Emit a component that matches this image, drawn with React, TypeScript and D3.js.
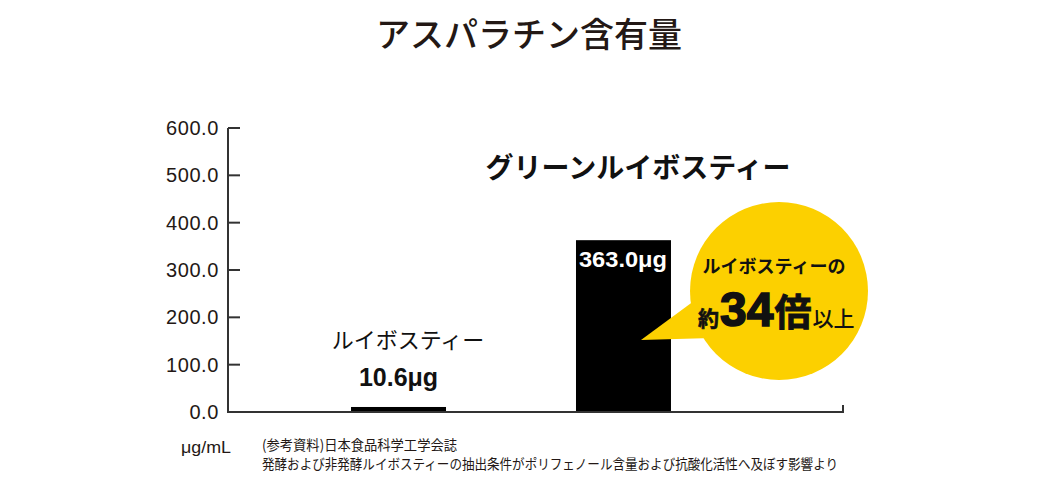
import React from "react";
import * as d3 from "d3";

const categories = ["ルイボスティー", "グリーンルイボスティー"];
const values = [10.6, 363.0];
const valueLabels = ["10.6μg", "363.0μg"];
const yTicks = [0, 100, 200, 300, 400, 500, 600];
const title = "アスパラチン含有量";
const unit = "μg/mL";
const footnotes = [
  "(参考資料)日本食品科学工学会誌",
  "発酵および非発酵ルイボスティーの抽出条件がポリフェノール含量および抗酸化活性へ及ぼす影響より",
];
const calloutTop = "ルイボスティーの";

const W = 1057;
const H = 478;
const JP = "'Noto Sans CJK JP', 'Noto Sans', sans-serif";
const LAT = "'Liberation Sans', Arial, sans-serif";

export default function App() {
  const y = d3.scaleLinear().domain([0, 600]).range([412, 128]);
  const x = d3
    .scaleBand<string>()
    .domain(categories)
    .range([286, 736])
    .paddingInner(130 / 225)
    .paddingOuter(0.289);
  const axisLeft = 228;
  const axisRight = 843;
  const bw = x.bandwidth();
  const c0 = (x(categories[0]) as number) + bw / 2;
  const b1x = x(categories[1]) as number;
  const top1 = y(values[1]);

  return (
    <svg
      width={W}
      height={H}
      viewBox={`0 0 ${W} ${H}`}
      style={{ position: "absolute", left: 0, top: 0, background: "#fff" }}
    >
      <rect x={0} y={0} width={W} height={H} fill="#fff" />
      <text
        x={529}
        y={47}
        textAnchor="middle"
        fontFamily={JP}
        fontWeight={500}
        fontSize={34}
        fill="#231815"
      >
        {title}
      </text>

      {/* bars */}
      {categories.map((c, i) => (
        <rect
          key={c}
          x={x(c) as number}
          y={y(values[i])}
          width={bw}
          height={y(0) - y(values[i])}
          fill="#000"
        />
      ))}

      {/* axes */}
      <g stroke="#333" strokeWidth={2} fill="none">
        <line x1={axisLeft} x2={axisLeft} y1={y(600)} y2={y(0) + 1} />
        <line x1={axisLeft - 1} x2={axisRight + 1} y1={y(0)} y2={y(0)} />
        <line x1={axisRight} x2={axisRight} y1={y(0) - 7} y2={y(0)} />
        {yTicks.map((t) => (
          <line key={t} x1={axisLeft} x2={axisLeft + 12} y1={y(t)} y2={y(t)} />
        ))}
      </g>
      {yTicks.map((t) => (
        <text
          key={t}
          x={219}
          y={y(t) + 7}
          textAnchor="end"
          fontFamily={LAT}
          fontSize={20}
          letterSpacing={0.6}
          fill="#231815"
        >
          {d3.format(".1f")(t)}
        </text>
      ))}

      {/* bar 1 labels */}
      <text
        x={408}
        y={348}
        textAnchor="middle"
        fontFamily={JP}
        fontSize={22}
        fill="#111"
      >
        {categories[0]}
      </text>
      <text
        x={c0}
        y={386}
        textAnchor="middle"
        fontFamily={LAT}
        fontWeight={700}
        fontSize={25}
        fill="#111"
      >
        {valueLabels[0]}
      </text>

      {/* bar 2 labels */}
      <text
        x={638}
        y={178}
        textAnchor="middle"
        fontFamily={JP}
        fontWeight={700}
        fontSize={28}
        fill="#111"
      >
        {categories[1]}
      </text>
      <text
        x={b1x + 3}
        y={top1 + 27}
        fontFamily={LAT}
        fontWeight={700}
        fontSize={22}
        fill="#fff"
        textLength={88}
        lengthAdjust="spacingAndGlyphs"
      >
        {valueLabels[1]}
      </text>

      {/* callout */}
      <polygon points="641,340 698,298 712,338" fill="#FCD000" />
      <circle cx={779} cy={291} r={89} fill="#FCD000" />
      <text
        x={774}
        y={273}
        textAnchor="middle"
        fontFamily={JP}
        fontWeight={700}
        fontSize={18}
        fill="#111"
      >
        {calloutTop}
      </text>
      <text x={698} y={326} fontFamily={JP} fontWeight={700} fill="#111" stroke="#111">
        <tspan fontSize={21} strokeWidth={0.6}>約</tspan>
        <tspan fontSize={48} fontFamily={LAT} fontWeight={900} dx={1} strokeWidth={1.6}>
          34
        </tspan>
        <tspan fontSize={37} dx={1} strokeWidth={1}>
          倍
        </tspan>
        <tspan fontSize={21} fontWeight={500} dx={1} strokeWidth={0}>
          以上
        </tspan>
      </text>

      {/* unit & footnotes */}
      <text x={181} y={453} fontFamily={LAT} fontSize={17} fill="#231815" textLength={50} lengthAdjust="spacingAndGlyphs">
        {unit}
      </text>
      <text
        x={262}
        y={450}
        fontFamily={JP}
        fontSize={14}
        fill="#231815"
        textLength={195}
        lengthAdjust="spacingAndGlyphs"
      >
        {footnotes[0]}
      </text>
      <text
        x={262}
        y={469}
        fontFamily={JP}
        fontSize={14}
        fill="#231815"
        textLength={576}
        lengthAdjust="spacingAndGlyphs"
      >
        {footnotes[1]}
      </text>
    </svg>
  );
}
